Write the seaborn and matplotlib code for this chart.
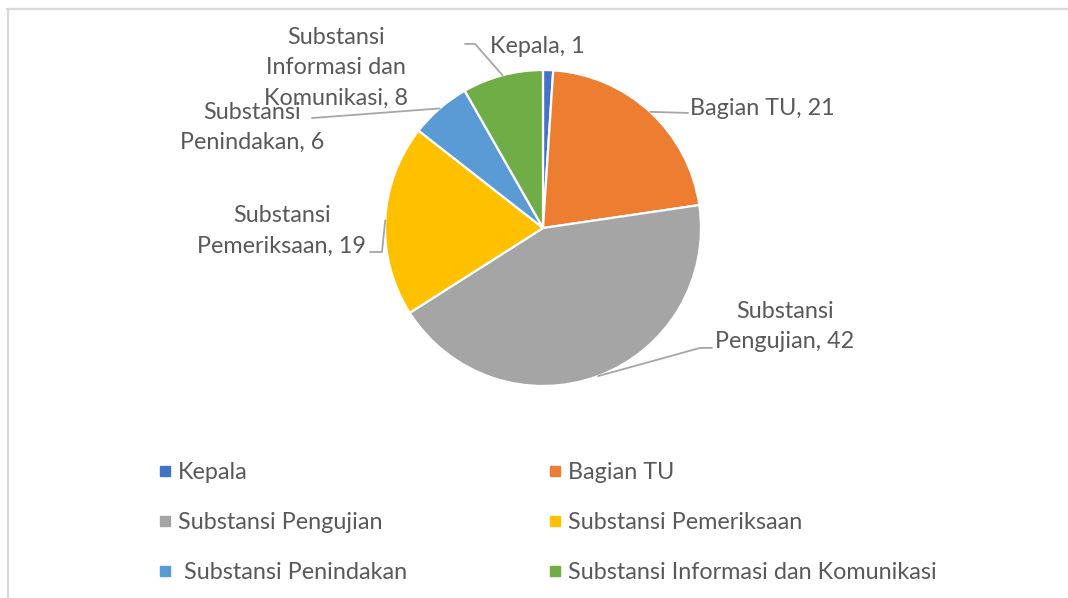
import matplotlib
matplotlib.use('Agg')
import numpy as np
import matplotlib.pyplot as plt
import seaborn as sns
from matplotlib.lines import Line2D

# data
categories = ['Kepala', 'Bagian TU', 'Substansi Pengujian', 'Substansi Pemeriksaan',
              ' Substansi Penindakan', 'Substansi Informasi dan Komunikasi']
wrapped_names = ['Kepala', 'Bagian TU', 'Substansi\nPengujian', 'Substansi\nPemeriksaan',
                 'Substansi\nPenindakan', 'Substansi\nInformasi dan\nKomunikasi']
values = [1, 21, 42, 19, 6, 8]
colors = ['#4472C4', '#ED7D31', '#A5A5A5', '#FFC000', '#5B9BD5', '#70AD47']

# label layout (pie radius = 1, centre = 0,0)
label_pos = [(-0.035, 1.146), (1.389, 0.759), (1.532, -0.623),
             (-1.652, -0.019), (-1.842, 0.636), (-1.310, 1.013)]
# leader line points from label side towards the wedge (None = no leader)
leader_pts = [None,
              [(0.918, 0.728)],
              [(1.070, -0.759), (0.994, -0.759)],
              [(-1.095, -0.152), (-1.019, -0.152)],
              [(-1.462, 0.696)],
              [(-0.494, 1.165), (-0.430, 1.165)]]

sns.set_theme(style='white')
plt.rcParams['font.family'] = ['Lato', 'DejaVu Sans']
txt_color = '#595959'
fs = 16.8

W, H = 1068, 598
fig = plt.figure(figsize=(W / 100, H / 100), dpi=100)
fig.patch.set_facecolor('white')

# chart frame (top and left edges visible)
fig.add_artist(Line2D([7 / W, 1], [1 - 9 / H, 1 - 9 / H], color='#D9D9D9', lw=1.6))
fig.add_artist(Line2D([8 / W, 8 / W], [0, 1 - 9 / H], color='#D9D9D9', lw=1.6))

cx, cy, R = 543, 228, 158
ax = fig.add_axes([(cx - R) / W, (H - cy - R) / H, 2 * R / W, 2 * R / H])
wedges, _ = ax.pie(values, colors=colors, startangle=90, counterclock=False,
                   wedgeprops=dict(edgecolor='white', linewidth=1.6))
ax.set_xlim(-1, 1)
ax.set_ylim(-1, 1)
ax.axis('off')

for w, name, v, pos, pts in zip(wedges, wrapped_names, values, label_pos, leader_pts):
    ax.text(pos[0], pos[1], f'{name}, {v}', ha='center', va='center',
            fontsize=fs, color=txt_color, linespacing=1.55)
    if pts is not None:
        mid = np.deg2rad((w.theta1 + w.theta2) / 2)
        xs = [p[0] for p in pts] + [np.cos(mid)]
        ys = [p[1] for p in pts] + [np.sin(mid)]
        ax.plot(xs, ys, color='#A6A6A6', lw=1.3, clip_on=False)

# legend in two columns, row-major like Excel
def handles_for(idx):
    return [Line2D([], [], marker='s', linestyle='', color=colors[i], markersize=6.5)
            for i in idx], [categories[i] for i in idx]

for idx, x0 in [([0, 2, 4], 157.5), ([1, 3, 5], 547.5)]:
    h, l = handles_for(idx)
    leg = fig.legend(h, l, loc='upper left', bbox_to_anchor=(x0 / W, 1 - 462 / H),
                     frameon=False, fontsize=fs, handlelength=0.6, handletextpad=0.28,
                     labelspacing=1.24, borderpad=0, borderaxespad=0)
    for t in leg.get_texts():
        t.set_color(txt_color)

fig.savefig('out.png', dpi=100, facecolor='white')
